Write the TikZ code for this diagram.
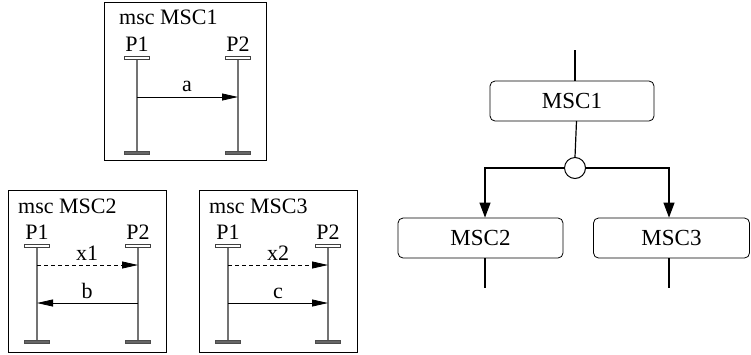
\documentclass[tikz,border=0pt]{standalone}
\usepackage{fontspec}
\setmainfont{Liberation Serif}
\usetikzlibrary{arrows.meta}
\tikzset{
  frame/.style={draw=black, line width=0.9pt},
  title/.style={anchor=base west, inner sep=0pt, font=\fontsize{22}{26}\selectfont},
  proc/.style={anchor=base, inner sep=0pt, font=\fontsize{22}{26}\selectfont},
  headbar/.style={draw=black!75, fill=white, line width=0.8pt, minimum width=25pt, minimum height=3.5pt, inner sep=0pt},
  footbar/.style={draw=black!70, fill=black!60, line width=0.5pt, minimum width=25pt, minimum height=3pt, inner sep=0pt},
  life/.style={draw=black!55, line width=1.3pt},
  msg/.style={draw=black, line width=0.8pt, -{Triangle[length=16pt,width=7pt]}},
  dmsg/.style={msg, dash pattern=on 4pt off 3pt},
  mlabel/.style={anchor=base, inner sep=0pt, font=\fontsize{22}{26}\selectfont},
  gbox/.style={draw=black, line width=0.8pt, rounded corners=5pt, inner sep=0pt, font=\fontsize{23}{27}\selectfont},
  gline/.style={draw=black, line width=1.2pt},
  garrow/.style={gline, -{Triangle[length=15pt,width=11pt]}},
}
\begin{document}
\begin{tikzpicture}[x=1pt,y=-1pt]
\useasboundingbox (0,0) rectangle (751,354);
% ---------- MSC1 chart
\node[frame, minimum width=162pt, minimum height=158pt, inner sep=0pt] (f1) at (185,81) {};
\node[title] (t1) at (119,24) {msc MSC1};
\node[proc] (p11) at (137,51) {P1};
\node[proc] (p12) at (238,51) {P2};
\node[headbar] (h11) at (137,58) {};
\node[headbar] (h12) at (238,58) {};
\node[footbar] (e11) at (137,153) {};
\node[footbar] (e12) at (238,153) {};
\draw[life] (h11.south) -- (e11.north);
\draw[life] (h12.south) -- (e12.north);
\coordinate (a1) at (137,97);
\coordinate (a2) at (238,97);
\draw[msg] (a1) -- (a2);
\node[mlabel] (la) at (187,91) {a};
% ---------- MSC2 chart
\node[frame, minimum width=158pt, minimum height=162pt, inner sep=0pt] (f2) at (87,271) {};
\node[title] (t2) at (18,213) {msc MSC2};
\node[proc] (p21) at (37,239) {P1};
\node[proc] (p22) at (138,239) {P2};
\node[headbar] (h21) at (37,246) {};
\node[headbar] (h22) at (138,246) {};
\node[footbar] (e21) at (37,342) {};
\node[footbar] (e22) at (138,342) {};
\draw[life] (h21.south) -- (e21.north);
\draw[life] (h22.south) -- (e22.north);
\coordinate (x1a) at (37,265);
\coordinate (x1b) at (138,265);
\draw[dmsg] (x1a) -- (x1b);
\node[mlabel] (lx1) at (87,260) {x1};
\coordinate (ba) at (138,303);
\coordinate (bb) at (37,303);
\draw[msg] (ba) -- (bb);
\node[mlabel] (lb) at (87,298) {b};
% ---------- MSC3 chart
\node[frame, minimum width=158pt, minimum height=162pt, inner sep=0pt] (f3) at (278,271) {};
\node[title] (t3) at (209,213) {msc MSC3};
\node[proc] (p31) at (228,239) {P1};
\node[proc] (p32) at (328,239) {P2};
\node[headbar] (h31) at (228,246) {};
\node[headbar] (h32) at (328,246) {};
\node[footbar] (e31) at (228,342) {};
\node[footbar] (e32) at (328,342) {};
\draw[life] (h31.south) -- (e31.north);
\draw[life] (h32.south) -- (e32.north);
\coordinate (x2a) at (228,265);
\coordinate (x2b) at (328,265);
\draw[dmsg] (x2a) -- (x2b);
\node[mlabel] (lx2) at (278,260) {x2};
\coordinate (ca) at (228,303);
\coordinate (cb) at (328,303);
\draw[msg] (ca) -- (cb);
\node[mlabel] (lc) at (278,298) {c};
% ---------- graph
\node[gbox, minimum width=164pt, minimum height=40pt] (g1) at (572,101) {MSC1};
\node[gbox, minimum width=165pt, minimum height=40pt] (g2) at (480.5,238) {MSC2};
\node[gbox, minimum width=156pt, minimum height=40pt] (g3) at (671.5,238) {MSC3};
\node[draw=black, line width=1pt, circle, minimum size=21pt, inner sep=0pt, fill=white] (c) at (575,168) {};
\coordinate (top) at (575,50);
\draw[gline] (top) -- (575,81);
\draw[gline] (576.5,121) -- (c.north);
\coordinate (b2) at (485,288);
\coordinate (b3) at (669,288);
\draw[garrow] (c.west) -| (g2.north -| b2);
\draw[garrow] (c.east) -| (g3.north -| b3);
\draw[gline] (g2.south -| b2) -- (b2);
\draw[gline] (g3.south -| b3) -- (b3);
\end{tikzpicture}
\end{document}
